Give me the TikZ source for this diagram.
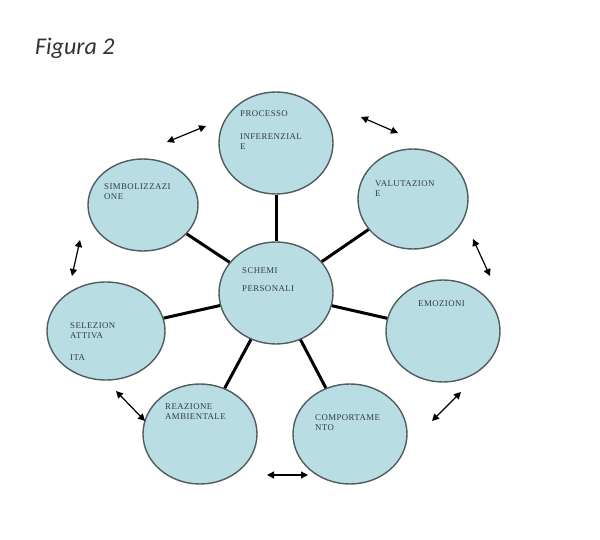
\documentclass[tikz,border=0pt]{standalone}
\usepackage{fontspec}
\setmainfont{Liberation Serif}
\newfontfamily\titlefont{Carlito}
\newfontfamily\lblfont[LetterSpace=5]{Liberation Serif}
\usetikzlibrary{arrows.meta,shapes.geometric,positioning}

\definecolor{bubble}{RGB}{184,222,228}
\definecolor{rim}{RGB}{80,92,94}
\definecolor{ink}{RGB}{50,60,60}

\begin{document}
\begin{tikzpicture}[x=1pt, y=-1pt, >={Triangle[length=7pt, width=7pt]},
    bub/.style={ellipse, draw=rim, line width=1.4pt, fill=bubble,
      minimum width=114pt, minimum height=102pt, inner sep=0pt},
    lbl/.style={anchor=north west, align=left, inner sep=0pt,
      font=\lblfont\fontsize{8.8}{10}\selectfont, text=ink},
    spoke/.style={line width=3pt, black},
    dbl/.style={<->, line width=1.2pt}]
  \useasboundingbox (0,0) rectangle (600,540);

  % Title
  \node[anchor=base west, inner sep=0pt, font=\titlefont\itshape\fontsize{24}{28}\selectfont,
    text=black!80] (title) at (35,55) {Figura 2};

  % Bubbles
  \node[bub] (schemi) at (276,293) {};
  \node[bub] (proc)   at (276,143) {};
  \node[bub, minimum width=110pt, minimum height=100pt] (valu) at (413,199) {};
  \node[bub, minimum width=110pt, minimum height=92pt] (simb) at (143,205) {};
  \node[bub, minimum width=118pt, minimum height=98pt] (sele) at (106,331) {};
  \node[bub] (emoz)   at (443,331) {};
  \node[bub, minimum height=100pt] (reaz) at (200,434) {};
  \node[bub, minimum height=100pt] (comp) at (350,434) {};

  % Spokes
  \foreach \n in {proc, valu, emoz, comp, reaz, sele, simb} {
    \draw[spoke] (schemi) -- (\n);
  }

  % Labels
  \node[lbl] (tproc) at (240,110) {PROCESSO\\[13pt]INFERENZIAL\\E};
  \node[lbl] (tvalu) at (375,180) {VALUTAZION\\E};
  \node[lbl] (tsimb) at (104,183) {SIMBOLIZZAZI\\ONE};
  \node[lbl] (tschemi) at (242,267) {SCHEMI\\[8pt]PERSONALI};
  \node[lbl] (tsele) at (70,322) {SELEZION\\ATTIVA\\[12pt]ITA};
  \node[lbl] (temoz) at (418,300) {EMOZIONI};
  \node[lbl] (treaz) at (165,403) {REAZIONE\\AMBIENTALE};
  \node[lbl] (tcomp) at (315,414) {COMPORTAME\\NTO};

  % Double arrows between neighbouring bubbles
  \foreach \xa/\ya/\xb/\yb [count=\i] in {167/142/206/126, 361/117/398/133,
      473/239/490/276, 432/421/461/392, 267/475/308/475,
      116/391/145/421, 80/240/72/276} {
    \coordinate (s\i) at (\xa,\ya);
    \coordinate (e\i) at (\xb,\yb);
    \draw[dbl] (s\i) -- (e\i);
  }
\end{tikzpicture}
\end{document}
